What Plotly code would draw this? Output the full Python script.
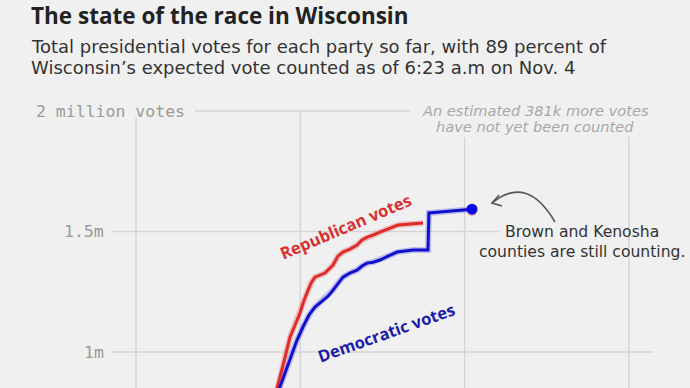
import plotly.graph_objects as go

# ---- data (time in hours on an arbitrary scale, votes in millions) ----
rep_time = [1.816, 1.858, 1.895, 1.937, 1.968, 1.998, 2.023, 2.041, 2.065, 2.089, 2.150,
            2.199, 2.229, 2.260, 2.302, 2.345, 2.376, 2.406, 2.442, 2.485, 2.546, 2.595,
            2.668, 2.747]
rep_votes = [0.718, 0.851, 0.946, 1.062, 1.112, 1.162, 1.216, 1.245, 1.286, 1.311, 1.328,
             1.361, 1.398, 1.415, 1.427, 1.444, 1.465, 1.477, 1.485, 1.498, 1.515, 1.527,
             1.531, 1.535]
dem_time = [1.828, 1.876, 1.913, 1.949, 1.980, 2.016, 2.053, 2.089, 2.138, 2.169, 2.199,
            2.229, 2.260, 2.302, 2.345, 2.376, 2.406, 2.442, 2.485, 2.534, 2.589, 2.637,
            2.686, 2.777, 2.783, 2.850, 2.923, 2.990, 3.045]
dem_votes = [0.718, 0.855, 0.925, 0.996, 1.050, 1.104, 1.154, 1.187, 1.216, 1.232, 1.257,
             1.286, 1.311, 1.328, 1.340, 1.357, 1.369, 1.373, 1.382, 1.398, 1.415, 1.419,
             1.423, 1.423, 1.577, 1.581, 1.585, 1.589, 1.593]
latest_time = [3.045]
latest_dem = [1.593]
latest_rep = [1.583]
ytick_vals = [2.0, 1.5, 1.0]
ytick_text = ["2 million votes", "1.5m", "1m"]
xgrid_vals = [1, 2, 3, 4]

W, H = 690, 388
X_RANGE = [0.172, 4.372]
Y_RANGE = [0.851, 2.4606]

def px(x):
    return x / W

def py(y):
    return 1 - y / H

def dx(pix):
    return X_RANGE[0] + pix / W * (X_RANGE[1] - X_RANGE[0])

def dy(pix):
    return Y_RANGE[1] - pix / H * (Y_RANGE[1] - Y_RANGE[0])

RED = "#e02b2b"
BLUE = "#1010cc"
GRID = "#d5d5d5"
BG = "#f0f0f0"
SANS = "Open Sans"
BODY = "DejaVu Sans"

fig = go.Figure()

# soft halos
fig.add_trace(go.Scatter(x=rep_time, y=rep_votes, mode="lines",
                         line=dict(color="rgba(230,80,80,0.30)", width=6), hoverinfo="skip"))
fig.add_trace(go.Scatter(x=dem_time, y=dem_votes, mode="lines",
                         line=dict(color="rgba(40,40,220,0.25)", width=6), hoverinfo="skip"))
fig.add_trace(go.Scatter(x=rep_time, y=rep_votes, mode="lines",
                         line=dict(color=RED, width=3), name="Republican votes"))
fig.add_trace(go.Scatter(x=dem_time, y=dem_votes, mode="lines",
                         line=dict(color=BLUE, width=3), name="Democratic votes"))
fig.add_trace(go.Scatter(x=latest_time, y=latest_rep, mode="markers",
                         marker=dict(color="rgba(230,110,130,0.45)", size=10), hoverinfo="skip"))
fig.add_trace(go.Scatter(x=latest_time, y=latest_dem, mode="markers",
                         marker=dict(color="#0a0ae6", size=11), hoverinfo="skip"))

shapes = []
# vertical gridlines (tops vary around the texts)
v_tops = [118, 112, 137, 137]
for xv, top in zip(xgrid_vals, v_tops):
    shapes.append(dict(type="line", xref="x", yref="y", x0=xv, x1=xv,
                       y0=dy(top), y1=Y_RANGE[0] - 0.2, layer="below",
                       line=dict(color=GRID, width=1.5)))
# horizontal gridlines
h_ext = {2.0: (195, 410), 1.5: (112, 500), 1.0: (112, 653)}
for yv in ytick_vals:
    a, b = h_ext[yv]
    shapes.append(dict(type="line", xref="x", yref="y", x0=dx(a), x1=dx(b),
                       y0=yv, y1=yv, layer="below", line=dict(color=GRID, width=1.5)))

# curved callout arrow
p0, c, p2 = (555, 222), (527, 174), (492, 203)
path = f"M{px(p0[0])},{py(p0[1])} Q{px(c[0])},{py(c[1])} {px(p2[0])},{py(p2[1])}"
shapes.append(dict(type="path", xref="paper", yref="paper", path=path,
                   line=dict(color="#555555", width=1.6)))
head = (f"M{px(499)},{py(195)} L{px(p2[0])},{py(p2[1])} L{px(502)},{py(206)}")
shapes.append(dict(type="path", xref="paper", yref="paper", path=head,
                   line=dict(color="#555555", width=1.6)))

ann = []
# titles
ann.append(dict(text="<b>The state of the race in Wisconsin</b>", x=px(29), y=py(15.5),
                xref="paper", yref="paper", xanchor="left", yanchor="middle", showarrow=False,
                font=dict(family=SANS, size=22.5, color="#222222")))
ann.append(dict(text="Total presidential votes for each party so far, with 89 percent of",
                x=px(29), y=py(46), xref="paper", yref="paper", xanchor="left", yanchor="middle",
                showarrow=False, font=dict(family=BODY, size=18, color="#333333")))
ann.append(dict(text="Wisconsin’s expected vote counted as of 6:23 a.m on Nov. 4",
                x=px(29), y=py(67), xref="paper", yref="paper", xanchor="left", yanchor="middle",
                showarrow=False, font=dict(family=BODY, size=18, color="#333333")))
# y labels
for yv, txt in zip(ytick_vals, ytick_text):
    if yv == 2.0:
        ann.append(dict(text=txt, x=px(34), y=yv, xref="paper", yref="y", xanchor="left",
                        yanchor="middle", showarrow=False,
                        font=dict(family="DejaVu Sans Mono", size=16.5, color="#9a9a9a")))
    else:
        ann.append(dict(text=txt, x=px(106), y=yv, xref="paper", yref="y", xanchor="right",
                        yanchor="middle", showarrow=False,
                        font=dict(family="DejaVu Sans Mono", size=16.5, color="#9a9a9a")))
# uncounted note
ann.append(dict(text="<i>An estimated 381k more votes</i>", x=px(535), y=py(110),
                xref="paper", yref="paper", xanchor="center", yanchor="middle", showarrow=False,
                font=dict(family=BODY, size=14.6, color="#a8a8a8")))
ann.append(dict(text="<i>have not yet been counted</i>", x=px(535), y=py(127),
                xref="paper", yref="paper", xanchor="center", yanchor="middle", showarrow=False,
                font=dict(family=BODY, size=14.6, color="#a8a8a8")))
# callout
ann.append(dict(text="Brown and Kenosha", x=px(582), y=py(232), xref="paper", yref="paper",
                xanchor="center", yanchor="middle", showarrow=False,
                font=dict(family=BODY, size=15.6, color="#333333")))
ann.append(dict(text="counties are still counting.", x=px(582), y=py(252), xref="paper",
                yref="paper", xanchor="center", yanchor="middle", showarrow=False,
                font=dict(family=BODY, size=15.6, color="#333333")))
# series labels
ann.append(dict(text="<b>Republican votes</b>", x=px(345), y=py(226), xref="paper", yref="paper",
                xanchor="center", yanchor="middle", showarrow=False, textangle=-23,
                font=dict(family=SANS, size=16.5, color="#d93030")))
ann.append(dict(text="<b>Democratic votes</b>", x=px(386), y=py(332), xref="paper", yref="paper",
                xanchor="center", yanchor="middle", showarrow=False, textangle=-19.5,
                font=dict(family=SANS, size=16.5, color="#1c1ca8")))

fig.update_layout(
    width=W, height=H, margin=dict(l=0, r=0, t=0, b=0, pad=0),
    paper_bgcolor=BG, plot_bgcolor=BG, showlegend=False,
    xaxis=dict(range=X_RANGE, showgrid=False, zeroline=False, showticklabels=False,
               showline=False, fixedrange=True),
    yaxis=dict(range=Y_RANGE, showgrid=False, zeroline=False, showticklabels=False,
               showline=False, fixedrange=True),
    shapes=shapes, annotations=ann,
)

fig.write_html(
    "out.html",
    config={"displayModeBar": False},
    post_script="document.body.style.margin='0';document.body.style.overflow='hidden';"
                "document.body.style.background='#f0f0f0';",
)
